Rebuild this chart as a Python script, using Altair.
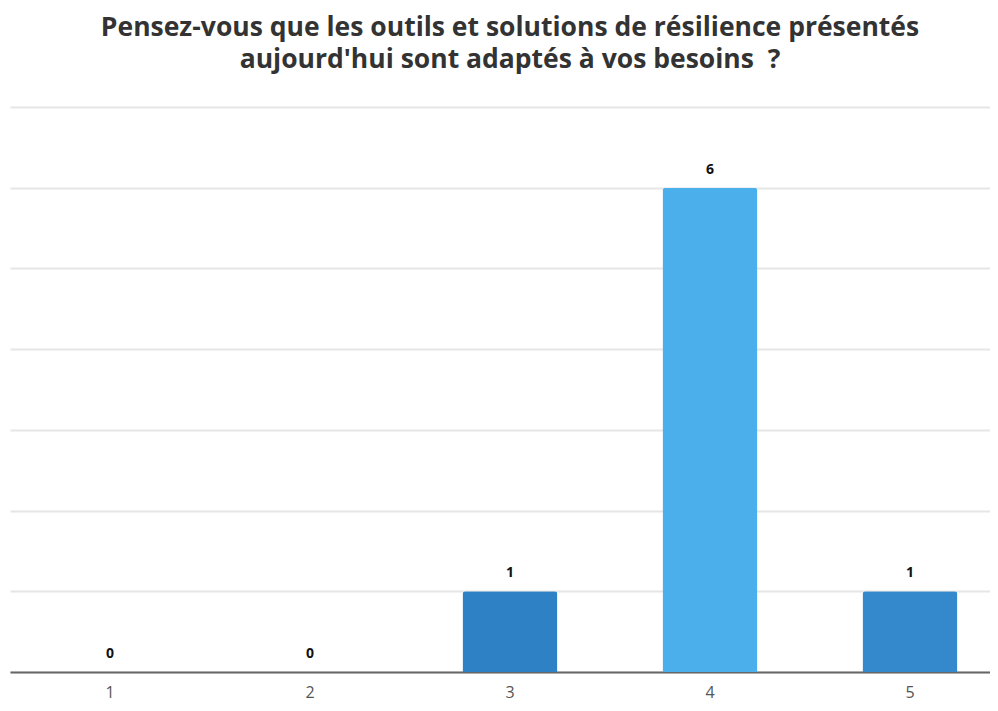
import altair as alt
import pandas as pd

categories = ["1", "2", "3", "4", "5"]
values = [0, 0, 1, 6, 1]
bar_colors = ["#2E81C5", "#2E81C5", "#2E81C5", "#4BAFEC", "#3489CC"]

df = pd.DataFrame({"cat": categories, "val": values, "color": bar_colors})

x_enc = alt.X(
    "cat:N",
    sort=categories,
    title=None,
    scale=alt.Scale(range=[0, 1000], paddingInner=0.525, paddingOuter=0.2625),
    axis=alt.Axis(
        labelAngle=0,
        labelFont="Open Sans",
        labelFontSize=16,
        labelColor="#555555",
        labelPadding=12,
        ticks=False,
        domainColor="#666666",
        domainWidth=2,
        grid=False,
    ),
)
y_enc = alt.Y(
    "val:Q",
    title=None,
    scale=alt.Scale(domain=[0, 7], nice=False),
    axis=alt.Axis(
        values=list(range(0, 8)),
        labels=False,
        ticks=False,
        domain=False,
        grid=True,
        gridColor="#e6e6e6",
        gridWidth=2,
    ),
)

base = alt.Chart(df).encode(x=x_enc, y=y_enc)

bars = base.mark_bar(cornerRadiusTopLeft=3, cornerRadiusTopRight=3).encode(
    color=alt.Color("color:N", scale=None)
)
labels = base.mark_text(
    baseline="alphabetic",
    dy=-14,
    font="Open Sans",
    fontSize=14,
    fontWeight="bold",
    color="#111111",
).encode(text="val:Q")

chart = (
    (bars + labels)
    .properties(
        width=980,
        height=565,
        title=alt.TitleParams(
            text=[
                "Pensez-vous que les outils et solutions de résilience présentés",
                "aujourd'hui sont adaptés à vos besoins \u00a0?",
            ],
            font="Open Sans",
            fontSize=26.5,
            fontWeight="bold",
            color="#333333",
            lineHeight=32,
            anchor="middle",
            frame="group",
            offset=34,
            dx=10,
        ),
        padding={"left": 2, "top": 99, "right": 0, "bottom": 31},
        autosize=alt.AutoSizeParams(type="none"),
        background="white",
    )
    .configure_view(stroke=None)
)

chart.save("out.html", embed_options={"renderer": "svg", "actions": False})
